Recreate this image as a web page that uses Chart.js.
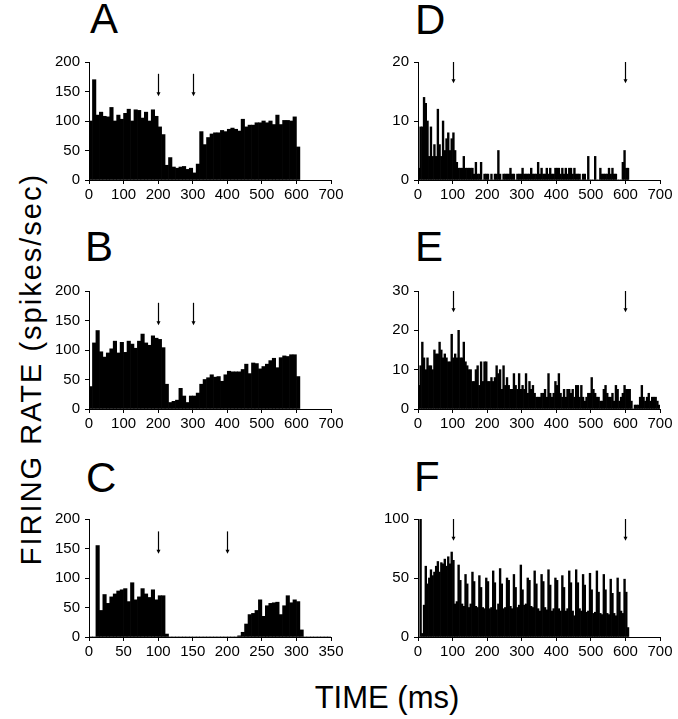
<!DOCTYPE html>
<html>
<head>
<meta charset="utf-8">
<script src="https://cdn.jsdelivr.net/npm/chart.js@4"></script>
<style>
  body { margin: 0; background: #fff; width: 678px; height: 719px; position: relative; overflow: hidden;
         font-family: "Liberation Sans", Arial, sans-serif; color: #000; }
  canvas { position: absolute; }
  .letter { position: absolute; font-size: 42px; line-height: 42px; }
  #xtitle { position: absolute; left: 237px; top: 682px; width: 300px; text-align: center;
            font-size: 31px; line-height: 31px; }
  #ytitle { position: absolute; left: -169px; top: 352px; width: 400px; height: 34px; line-height: 34px;
            text-align: center; font-size: 29px; letter-spacing: 2px; transform: rotate(-90deg); white-space: nowrap; }
</style>
</head>
<body>
<div class="letter" style="left:90px;top:-2px">A</div>
<div class="letter" style="left:85px;top:226px">B</div>
<div class="letter" style="left:86px;top:457px">C</div>
<div class="letter" style="left:415px;top:-1px">D</div>
<div class="letter" style="left:415px;top:226px">E</div>
<div class="letter" style="left:414px;top:456px">F</div>
<div id="ytitle">FIRING RATE (spikes/sec)</div>
<div id="xtitle">TIME (ms)</div>

<canvas id="chartA" width="302" height="157" style="left:44px;top:48px"></canvas>
<canvas id="chartB" width="302" height="157" style="left:44px;top:277px"></canvas>
<canvas id="chartC" width="302" height="157" style="left:44px;top:505px"></canvas>
<canvas id="chartD" width="302" height="157" style="left:373px;top:48px"></canvas>
<canvas id="chartE" width="302" height="157" style="left:373px;top:277px"></canvas>
<canvas id="chartF" width="302" height="157" style="left:373px;top:505px"></canvas>

<script>
// firing rates per bin (spikes/sec)
const rateA = [100,170,110,115,108,107,123,100,110,103,
               113,120,100,119,118,105,115,100,119,108,
               90,77,25,38,22,20,22,23,18,20,
               12,27,82,60,72,78,80,80,84,82,
               86,88,86,83,103,90,93,93,97,97,
               100,97,100,94,110,94,101,101,100,107,
               56];
const rateB = [38,112,133,97,88,95,102,115,95,113,
               96,115,110,103,115,127,112,108,124,120,
               118,104,42,11,13,15,35,22,11,22,
               22,27,42,50,53,58,54,55,47,58,
               64,63,63,63,67,76,60,78,77,68,
               72,76,82,86,70,87,90,89,92,92,
               55];
const rateC = [0,0,155,45,72,57,68,73,78,80,
               82,60,92,63,68,82,73,67,80,63,
               70,70,5,0,0,0,0,0,0,0,
               0,0,0,0,0,0,0,0,0,0,
               0,0,0,2,8,22,38,40,45,63,
               35,53,57,58,59,38,53,70,58,63,
               60,12,0,0,0,0,0,0,0,0];
const rateD = [2,9,9,14,13,10,4,9,4,6,
               4,12,6,4,10,5,7,8,5,7,
               8,5,3,2,2,2,4,2,2,2,
               2,2,1,3,1,1,3,0,1,1,
               1,0,1,0,1,1,5,1,0,1,
               1,1,1,2,1,1,0,1,1,1,
               2,1,1,1,1,2,1,1,1,3,
               1,2,1,1,2,1,2,1,1,2,
               2,2,1,2,1,2,1,2,2,1,
               2,1,1,1,0,1,1,0,4,0,
               0,0,4,0,0,2,1,1,1,1,
               2,1,2,1,1,0,0,0,3,5,
               2,2];
const rateE = [6,11,17,13,10,13,11,11,10,15,
               14,14,17,15,13,14,13,12,12,19,
               13,14,13,20,13,13,17,12,11,10,
               10,7,7,10,11,6,12,7,12,12,
               7,7,8,7,8,11,9,10,5,11,
               6,8,6,5,5,9,6,5,9,5,
               6,5,9,4,7,5,6,4,3,3,
               3,4,4,5,3,9,4,3,4,7,
               6,9,4,3,5,3,5,5,4,5,
               3,6,6,3,6,3,2,3,4,4,
               8,5,4,3,3,2,2,5,6,4,
               3,3,4,2,6,5,2,3,4,6,
               5,5,5,2,0,1,1,1,3,6,
               3,2,3,4,2,3,3,3,2,1];
const rateF = [0,100,3,27,60,45,50,57,52,55,
               60,64,55,63,62,66,60,68,62,72,
               65,28,30,61,48,28,26,53,45,25,
               28,55,47,26,25,52,42,25,24,50,
               47,24,25,56,46,23,28,58,45,24,
               25,50,48,26,24,53,42,25,27,61,
               40,27,28,50,48,26,25,56,45,24,
               22,53,47,25,23,57,44,22,24,50,
               48,24,22,52,42,22,24,56,46,22,
               18,57,46,24,22,53,44,21,22,54,
               40,20,21,56,38,20,19,53,40,20,
               19,49,37,20,18,50,38,22,20,49,
               38,8];

// stimulus markers (ms)
const marksAB = [200, 300];
const marksC = [100, 200];
const marksDEF = [100, 600];

const arrowPlugin = {
  id: 'arrows',
  afterDatasetsDraw(chart, args, opts) {
    const { ctx, scales: { x, y } } = chart;
    ctx.save();
    ctx.strokeStyle = '#000';
    ctx.fillStyle = '#000';
    ctx.lineWidth = 1.2;
    opts.at.forEach(v => {
      const px = Math.round(x.getPixelForValue(v)) + 0.5;
      const y0 = y.getPixelForValue(opts.from);
      const y1 = y.getPixelForValue(opts.to);
      ctx.beginPath();
      ctx.moveTo(px, y0);
      ctx.lineTo(px, y1 - 3);
      ctx.stroke();
      ctx.beginPath();
      ctx.moveTo(px - 2, y1 - 4);
      ctx.lineTo(px + 2, y1 - 4);
      ctx.lineTo(px, y1);
      ctx.closePath();
      ctx.fill();
    });
    ctx.restore();
  }
};

const tickFont = { family: 'Liberation Sans', size: 15 };

function histogram(id, rates, bin, xMax, xStep, yMax, yStep, arrows) {
  const pts = rates.map((v, i) => ({ x: i * bin + bin / 2, y: v }));
  return new Chart(document.getElementById(id), {
    type: 'bar',
    data: {
      datasets: [{
        data: pts,
        backgroundColor: '#000',
        borderWidth: 0,
        barPercentage: 1,
        categoryPercentage: 1
      }]
    },
    options: {
      responsive: false,
      animation: false,
      events: [],
      layout: { padding: { top: 10, right: 15, left: 0, bottom: 0 } },
      scales: {
        x: {
          type: 'linear',
          offset: false,
          min: 0, max: xMax,
          afterFit: s => { s.height = 25; },
          grid: { display: true, drawOnChartArea: false, drawTicks: true, tickLength: 4, color: '#000', offset: false },
          border: { display: true, color: '#000', width: 1 },
          ticks: { stepSize: xStep, autoSkip: false, maxRotation: 0, color: '#000', font: tickFont, padding: 2 }
        },
        y: {
          min: 0, max: yMax,
          afterFit: s => { s.width = 45; },
          grid: { display: true, drawOnChartArea: false, drawTicks: true, tickLength: 4, color: '#000' },
          border: { display: true, color: '#000', width: 1 },
          ticks: { stepSize: yStep, color: '#000', font: tickFont, padding: 5 }
        }
      },
      plugins: {
        legend: { display: false },
        tooltip: { enabled: false },
        arrows: arrows
      }
    },
    plugins: [arrowPlugin]
  });
}

histogram('chartA', rateA, 10, 700, 100, 200, 50, { at: marksAB, from: 180, to: 142 });
histogram('chartB', rateB, 10, 700, 100, 200, 50, { at: marksAB, from: 180, to: 142 });
histogram('chartC', rateC, 5, 350, 50, 200, 50, { at: marksC, from: 179, to: 141 });
histogram('chartD', rateD, 5, 700, 100, 20, 10, { at: marksDEF, from: 20, to: 16.4 });
histogram('chartE', rateE, 5, 700, 100, 30, 10, { at: marksDEF, from: 30, to: 24.6 });
histogram('chartF', rateF, 5, 700, 100, 100, 50, { at: marksDEF, from: 100, to: 81.5 });
</script>
</body>
</html>
